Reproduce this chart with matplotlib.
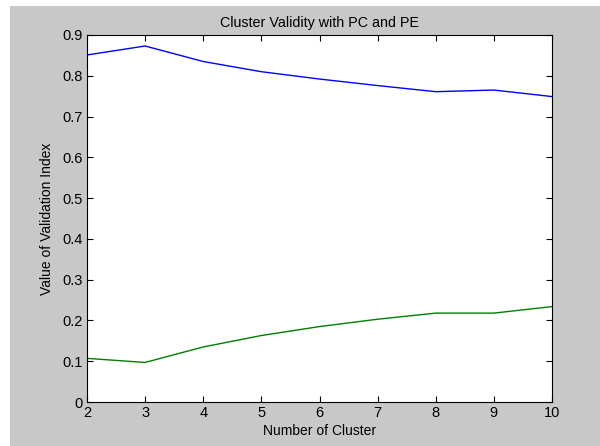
import matplotlib
matplotlib.use('Agg')
import matplotlib.pyplot as plt

# data
clusters = [2, 3, 4, 5, 6, 7, 8, 9, 10]
pc_values = [0.851, 0.873, 0.835, 0.810, 0.792, 0.776, 0.761, 0.765, 0.749]
pe_values = [0.107, 0.097, 0.135, 0.163, 0.185, 0.203, 0.218, 0.218, 0.234]
y_ticks = [0, 0.1, 0.2, 0.3, 0.4, 0.5, 0.6, 0.7, 0.8, 0.9]
y_tick_labels = ['0', '0.1', '0.2', '0.3', '0.4', '0.5', '0.6', '0.7', '0.8', '0.9']

plt.rcParams['font.family'] = ['Liberation Sans', 'DejaVu Sans']

fig = plt.figure(figsize=(6, 4.46), dpi=100)
fig.patch.set_facecolor('white')
# gray figure canvas like an old MATLAB window
bg = fig.add_axes([10 / 600, 0, 590 / 600, 440 / 446])
bg.set_facecolor('#c8c8c8')
bg.set_xticks([])
bg.set_yticks([])
for s in bg.spines.values():
    s.set_visible(False)

ax = fig.add_axes([87 / 600, 1 - 402 / 446, (552 - 87) / 600, (402 - 35) / 446])
ax.set_facecolor('white')
ax.plot(clusters, pc_values, color='#0000ff', lw=1)
ax.plot(clusters, pe_values, color='#007f00', lw=1)

ax.set_xlim(2, 10)
ax.set_ylim(0, 0.9)
ax.set_xticks(clusters)
ax.set_yticks(y_ticks)
ax.set_yticklabels(y_tick_labels)
ax.tick_params(direction='in', length=4, width=0.8, labelsize=10.5,
               top=True, right=True, pad=3)
for s in ax.spines.values():
    s.set_linewidth(0.8)

ax.set_title('Cluster Validity with PC and PE', fontsize=10.3, pad=6)
ax.set_xlabel('Number of Cluster', fontsize=10, labelpad=3)
ax.set_ylabel('Value of Validation Index', fontsize=10, labelpad=6)

fig.savefig('out.png', dpi=100)
